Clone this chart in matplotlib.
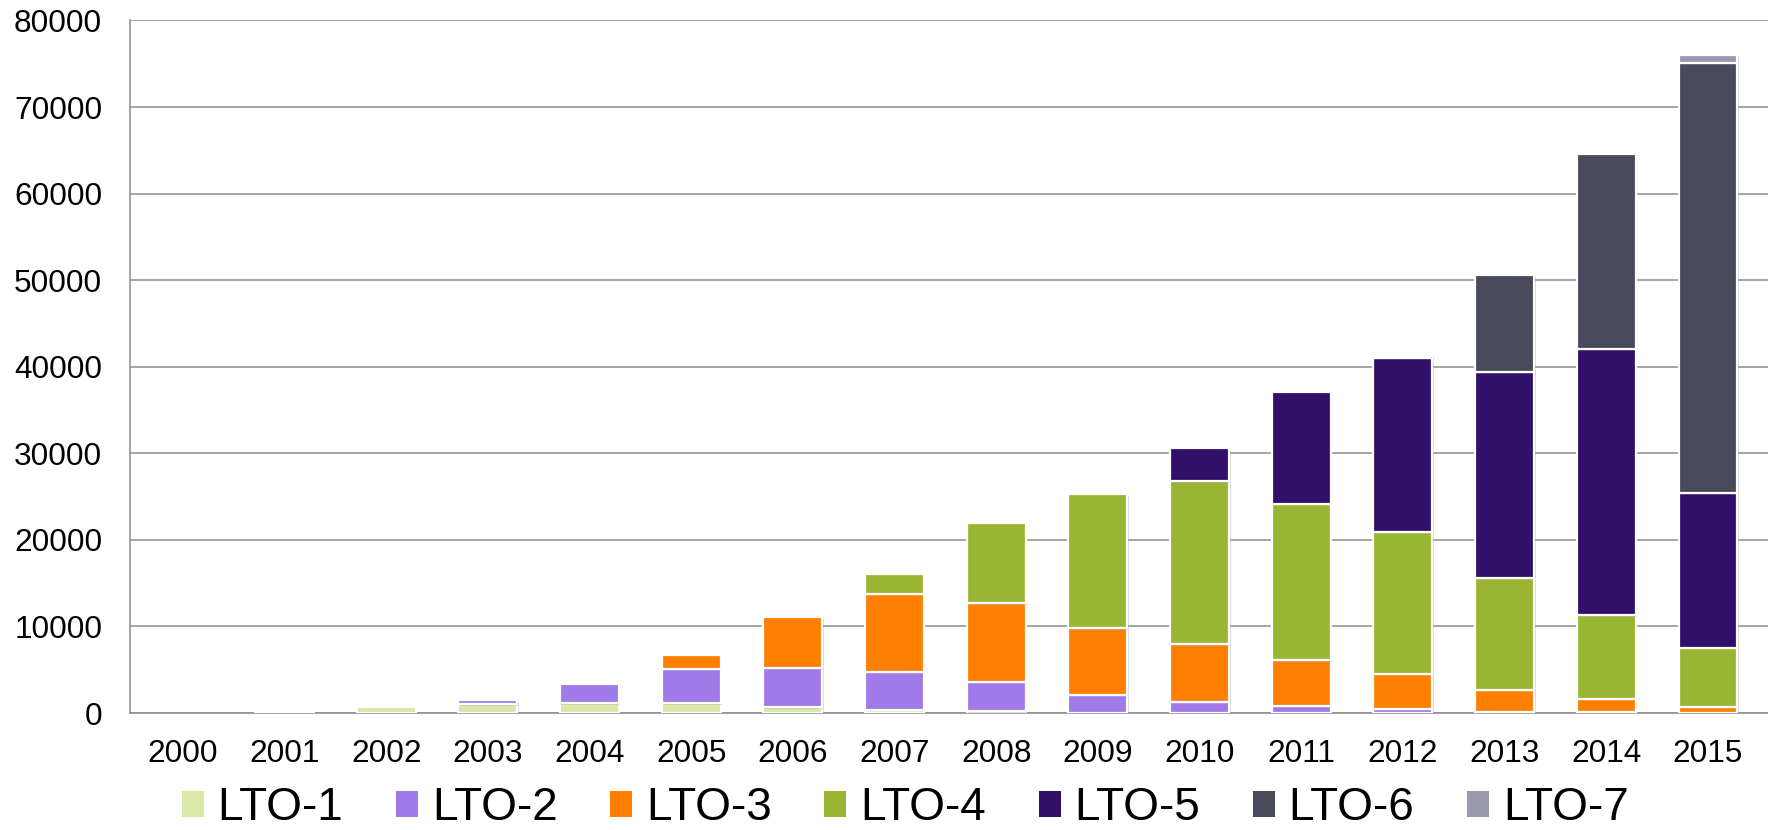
import numpy as np
import matplotlib.pyplot as plt
from matplotlib import patheffects as pe
from matplotlib.patches import Patch

plt.rcParams['font.family'] = ['Liberation Sans', 'DejaVu Sans']

# data (units per year)
years = [str(y) for y in range(2000, 2016)]
series = ['LTO-1', 'LTO-2', 'LTO-3', 'LTO-4', 'LTO-5', 'LTO-6', 'LTO-7']
lto1 = [0, 80, 650, 1000, 1100, 1100, 650, 400, 200, 50, 0, 0, 0, 0, 0, 0]
lto2 = [0, 0, 0, 470, 2300, 4000, 4500, 4350, 3400, 2050, 1270, 800, 450, 150, 80, 0]
lto3 = [0, 0, 0, 0, 0, 1600, 5900, 9000, 9050, 7700, 6650, 5280, 4100, 2500, 1530, 750]
lto4 = [0, 0, 0, 0, 0, 0, 0, 2300, 9300, 15460, 18850, 18100, 16350, 13000, 9680, 6780]
lto5 = [0, 0, 0, 0, 0, 0, 0, 0, 0, 0, 3800, 12900, 20100, 23750, 30800, 17900]
lto6 = [0, 0, 0, 0, 0, 0, 0, 0, 0, 0, 0, 0, 270, 11250, 22470, 49680]
lto7 = [0, 0, 0, 0, 0, 0, 0, 0, 0, 0, 0, 0, 0, 0, 0, 910]
colors = ['#d9e8a6', '#a07ae9', '#ff8000', '#9ab534', '#31106b', '#484a5a', '#9a9aae']

fig = plt.figure(figsize=(17.68, 8.30), dpi=100)
ax = fig.add_axes([130 / 1768, 117 / 830, 1 - 130 / 1768, (713 - 20.5) / 830])

x = np.arange(len(years))
bottom = np.zeros(len(years))
shadow = [pe.SimplePatchShadow(offset=(1, -1), shadow_rgbFace='#999999', alpha=0.35), pe.Normal()]
for name, vals, c in zip(series, [lto1, lto2, lto3, lto4, lto5, lto6, lto7], colors):
    vals = np.array(vals, dtype=float)
    bars = ax.bar(x, vals, 0.58, bottom=bottom, color=c, edgecolor='white',
                  linewidth=1.6, zorder=3)
    for b, v in zip(bars, vals):
        if v > 0:
            b.set_path_effects(shadow)
        else:
            b.set_visible(False)
    bottom += vals

ax.set_xlim(-0.52, 15.59)
ax.set_ylim(0, 80000)
ax.set_yticks(np.arange(0, 80001, 10000))
ax.set_xticks(x)
ax.set_xticklabels(years)
ax.yaxis.grid(True, color='#8c8c8c', linewidth=1.1)
ax.set_axisbelow(True)
for s in ['top', 'right']:
    ax.spines[s].set_visible(False)
for s in ['left', 'bottom']:
    ax.spines[s].set_color('#8c8c8c')
    ax.spines[s].set_linewidth(1.1)
ax.tick_params(axis='y', length=0, pad=20, labelsize=22.8)
ax.tick_params(axis='x', length=0, pad=19, labelsize=22.8)

handles = [Patch(facecolor=c, edgecolor='none', label=n) for n, c in zip(series, colors)]
fig.legend(handles=handles, loc='center', bbox_to_anchor=(0.512, 0.026), ncol=7,
           frameon=False, fontsize=33, handlelength=0.48, handleheight=0.48,
           handletextpad=0.3, columnspacing=1.15, borderaxespad=0, borderpad=0)

fig.savefig('out.png', dpi=100)
